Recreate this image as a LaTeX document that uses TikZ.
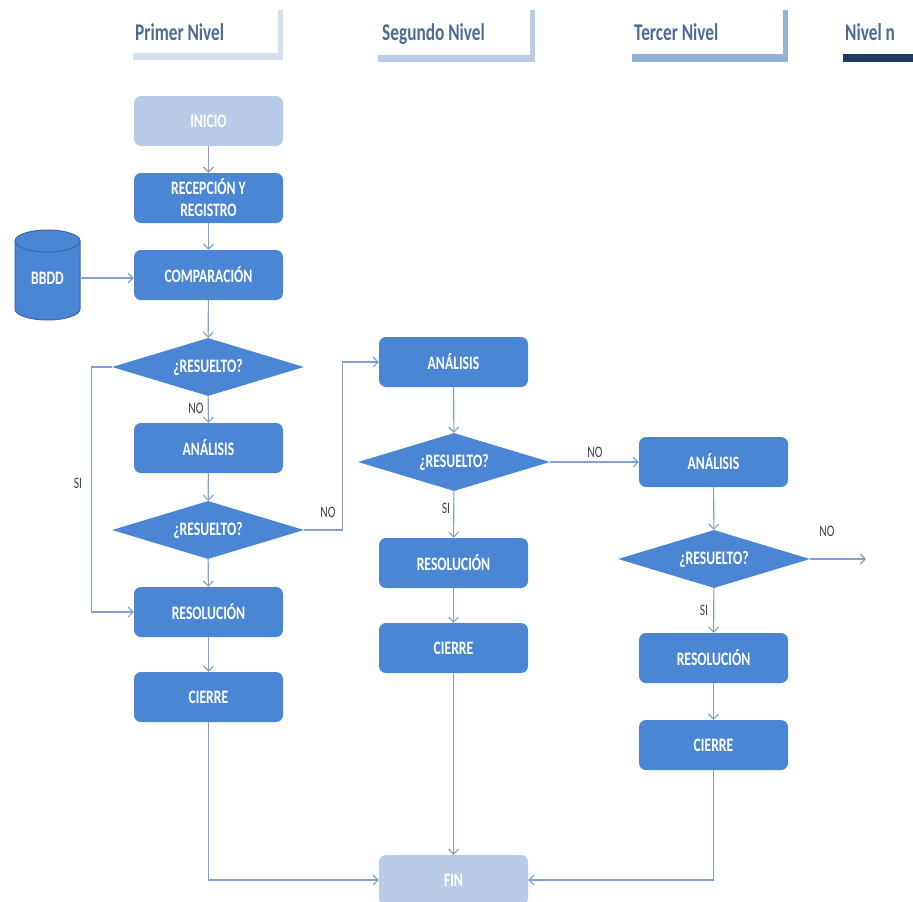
\documentclass[tikz,border=0pt]{standalone}
\usepackage{fontspec}
\setmainfont{Carlito}[FakeStretch=0.72]
\usetikzlibrary{shapes.geometric,arrows.meta}
\definecolor{boxblue}{HTML}{4A86D4}
\definecolor{paleblue}{HTML}{B8CCE8}
\definecolor{linkblue}{HTML}{819FD0}
\definecolor{headtext}{HTML}{4C6A96}
\definecolor{labelgray}{HTML}{404040}
\definecolor{barone}{HTML}{D5DFEF}
\definecolor{bartwo}{HTML}{B9CCE6}
\definecolor{barthree}{HTML}{93B0D8}
\definecolor{barfour}{HTML}{1F3864}
\definecolor{cyledge}{HTML}{3A68A8}
\begin{document}
\begin{tikzpicture}[x=1pt,y=-1pt,
  stepbox/.style={rectangle, rounded corners=7pt, fill=boxblue, minimum width=149pt,
    minimum height=50pt, text=white, inner sep=0pt, align=center,
    font=\fontsize{19}{21}\selectfont\bfseries},
  endbox/.style={stepbox, fill=paleblue},
  decision/.style={diamond, fill=boxblue, minimum width=192pt, minimum height=58pt,
    aspect=3.3, inner sep=0pt, text=white, font=\fontsize{19}{21}\selectfont\bfseries},
  link/.style={draw=linkblue, line width=1.1pt, -{Straight Barb[length=5pt,width=10pt]}},
  lbl/.style={text=labelgray, font=\fontsize{16}{18}\selectfont, inner sep=0pt},
  header/.style={anchor=base west, text=headtext, inner sep=0pt, font=\fontsize{24}{26}\selectfont\bfseries}
]
\useasboundingbox (0,0) rectangle (913,902);

% level headers with their bracket bars
\fill[barone] (133,53) rectangle (283,60);
\fill[barone] (278,10) rectangle (283,60);
\node[header] (h1) at (135,40) {Primer Nivel};
\fill[bartwo] (378,55) rectangle (535,62);
\fill[bartwo] (530,10) rectangle (535,62);
\node[header] (h2) at (382,40) {Segundo Nivel};
\fill[barthree] (632,54) rectangle (788,62);
\fill[barthree] (783,10) rectangle (788,62);
\node[header] (h3) at (634,40) {Tercer Nivel};
\fill[barfour] (843,54) rectangle (913,62);
\node[header] (h4) at (845,40) {Nivel n};

% database cylinder
\path[fill=boxblue, draw=cyledge, line width=1pt]
  (15,241) -- (15,309) arc[start angle=180, end angle=0, x radius=32.5, y radius=11]
  -- (80,241) arc[start angle=0, end angle=-180, x radius=32.5, y radius=11] -- cycle;
\draw[cyledge, line width=1pt] (15,241) arc[start angle=180, end angle=0, x radius=32.5, y radius=11];
\node[minimum width=65pt, inner sep=0pt, text=white, font=\fontsize{19}{21}\selectfont\bfseries] (bbdd) at (47.5,278) {BBDD};

% first level
\node[endbox] (inicio) at (208.5,121) {INICIO};
\node[stepbox] (recep) at (208.5,198) {RECEPCIÓN Y\\[1pt]REGISTRO};
\node[stepbox] (comp) at (208.5,275) {COMPARACIÓN};
\node[decision] (dec1) at (208,367) {¿RESUELTO?};
\node[stepbox] (anal1) at (208.5,448) {ANÁLISIS};
\node[decision] (dec2) at (208,530) {¿RESUELTO?};
\node[stepbox] (resol1) at (208.5,612) {RESOLUCIÓN};
\node[stepbox] (cierre1) at (208.5,697) {CIERRE};

% second level
\node[stepbox] (anal2) at (453.5,362) {ANÁLISIS};
\node[decision] (dec3) at (454,462) {¿RESUELTO?};
\node[stepbox] (resol2) at (453.5,563) {RESOLUCIÓN};
\node[stepbox] (cierre2) at (453.5,648) {CIERRE};
\node[endbox] (fin) at (453.5,880) {FIN};

% third level
\node[stepbox] (anal3) at (713.5,462) {ANÁLISIS};
\node[decision] (dec4) at (714,559) {¿RESUELTO?};
\node[stepbox] (resol3) at (713.5,658) {RESOLUCIÓN};
\node[stepbox] (cierre3) at (713.5,745) {CIERRE};
\coordinate (next) at (866,559);

% connectors
\draw[link] (inicio) -- (recep);
\draw[link] (recep) -- (comp);
\draw[link] (bbdd.east) -- (comp.west |- bbdd.east);
\draw[link] (comp) -- (dec1);
\draw[link] (dec1) -- (anal1);
\draw[link] (anal1) -- (dec2);
\draw[link] (dec2) -- (resol1);
\draw[link] (resol1) -- (cierre1);
\draw[link] (dec1.west) -- ++(-20,0) |- (resol1.west);
\draw[link] (dec2.east) -- ++(38,0) |- (anal2.west);
\draw[link] (anal2) -- (dec3);
\draw[link] (dec3) -- (resol2);
\draw[link] (resol2) -- (cierre2);
\draw[link] (cierre2) -- (fin);
\draw[link] (dec3.east) -- (anal3.west);
\draw[link] (anal3) -- (dec4);
\draw[link] (dec4) -- (resol3);
\draw[link] (resol3) -- (cierre3);
\draw[link] (dec4.east) -- (next);
\draw[link] (cierre1.south) |- (fin.west);
\draw[link] (cierre3.south) |- (fin.east);

% branch labels
\node[lbl] (no1) at (196,408) {NO};
\node[lbl] (si1) at (78,483) {SI};
\node[lbl] (no2) at (328,512) {NO};
\node[lbl] (no3) at (595,452) {NO};
\node[lbl] (si2) at (446,508) {SI};
\node[lbl] (si3) at (704,610) {SI};
\node[lbl] (no4) at (827,531) {NO};
\end{tikzpicture}
\end{document}
